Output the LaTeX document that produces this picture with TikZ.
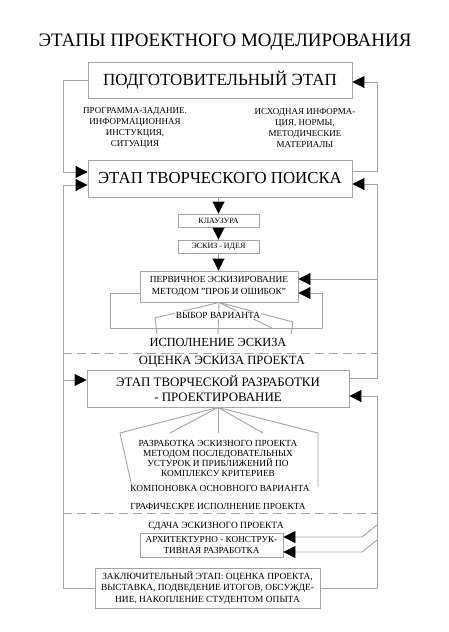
\documentclass[tikz,border=0pt]{standalone}
\usepackage{fontspec}
\setmainfont{Liberation Serif}
\usetikzlibrary{arrows.meta}
\definecolor{lgray}{RGB}{165,165,165}
\begin{document}
\begin{tikzpicture}[x=1pt,y=-1pt,
  ln/.style={draw=lgray, line width=0.9pt},
  box/.style={draw=lgray, line width=0.9pt, fill=white, inner sep=0pt, align=center},
  arr/.style={ln, -{Triangle[length=12pt,width=12pt,color=black]}},
  lbl/.style={align=center, inner sep=1pt},
  dsh/.style={ln, dash pattern=on 9pt off 5pt}
]
\useasboundingbox[fill=white] (0,0) rectangle (448,632);
\coordinate (L) at (63,0);
\coordinate (R) at (377,0);

% title
\node[lbl, font=\fontsize{19}{22}\selectfont] (title) at (225,42) {ЭТАПЫ ПРОЕКТНОГО МОДЕЛИРОВАНИЯ};

% boxes
\node[box, minimum width=264pt, minimum height=36pt, font=\fontsize{17}{20}\selectfont] (prep) at (220,80) {ПОДГОТОВИТЕЛЬНЫЙ ЭТАП};
\node[box, minimum width=264pt, minimum height=37pt, font=\fontsize{16.8}{20}\selectfont] (search) at (220,178.5) {ЭТАП ТВОРЧЕСКОГО ПОИСКА};
\node[box, minimum width=81pt, minimum height=13pt, font=\fontsize{8}{9}\selectfont] (klau) at (218.5,220.5) {КЛАУЗУРА};
\node[box, minimum width=81pt, minimum height=13pt, font=\fontsize{8}{9}\selectfont] (idea) at (218.5,246.5) {ЭСКИЗ - ИДЕЯ};
\node[box, minimum width=158pt, minimum height=31pt, font=\fontsize{9.3}{11.5}\selectfont] (first) at (219,286.5) {ПЕРВИЧНОЕ ЭСКИЗИРОВАНИЕ\\МЕТОДОМ "ПРОБ И ОШИБОК"};
\node[box, minimum width=262pt, minimum height=37pt, font=\fontsize{12.9}{15.5}\selectfont] (dev) at (218,388.5) {ЭТАП ТВОРЧЕСКОЙ РАЗРАБОТКИ\\- ПРОЕКТИРОВАНИЕ};
\node[box, minimum width=143pt, minimum height=24pt, font=\fontsize{9.2}{11.5}\selectfont] (arch) at (211.5,545) {АРХИТЕКТУРНО - КОНСТРУК-\\ТИВНАЯ РАЗРАБОТКА};
\node[box, minimum width=225pt, minimum height=40pt, font=\fontsize{9.4}{11.5}\selectfont] (final) at (207.5,588) {ЗАКЛЮЧИТЕЛЬНЫЙ ЭТАП: ОЦЕНКА ПРОЕКТА,\\ВЫСТАВКА, ПОДВЕДЕНИЕ ИТОГОВ, ОБСУЖДЕ-\\НИЕ, НАКОПЛЕНИЕ СТУДЕНТОМ ОПЫТА};

% info texts
\node[lbl, font=\fontsize{9}{11}\selectfont] (infoL) at (135,128) {ПРОГРАММА-ЗАДАНИЕ.\\ИНФОРМАЦИОННАЯ\\ИНСТУКЦИЯ,\\СИТУАЦИЯ};
\node[lbl, font=\fontsize{9}{11}\selectfont] (infoR) at (305,128.5) {ИСХОДНАЯ ИНФОРМА-\\ЦИЯ, НОРМЫ,\\МЕТОДИЧЕСКИЕ\\МАТЕРИАЛЫ};

% vertical flow
\draw[arr] (klau.north |- search.south) -- (klau.north);
\draw[arr] (klau.south) -- (idea.north);
\draw[arr] (idea.south) -- (idea.south |- first.north);

% feedback loops
\draw[arr] (prep.west) -- (prep.west -| L) |- ([yshift=6.5pt]search.west);
\draw[arr] ([yshift=7.5pt]search.east) -- ([yshift=7.5pt]search.east -| R) |- ([yshift=-2pt]prep.east);
\draw[arr] (final.west) -- (final.west -| L) |- ([yshift=-6.5pt]search.west);
\draw[arr] ([yshift=8.5pt]dev.west -| L) -- ([yshift=8.5pt]dev.west);
\draw[arr] ([yshift=10.5pt]dev.east) -- ([yshift=10.5pt]dev.east -| R) |- ([yshift=-5.5pt]search.east);
\draw[arr] ([yshift=7.5pt]first.east -| R) -- ([yshift=7.5pt]first.east);
\draw[arr] (final.east) -- (final.east -| R) |- ([yshift=-7.5pt]dev.east);
\coordinate (k1) at (377,525);
\coordinate (k1b) at (362,537);
\coordinate (k2) at (377,540);
\coordinate (k2b) at (362,552);
\draw[arr] (k1) -- (k1b) -- (k1b -| arch.east);
\draw[arr] (k2) -- (k2b) -- (k2b -| arch.east);

% loop around first sketching
\coordinate (lp1) at (110,328);
\coordinate (lp2) at (322,328);
\draw[arr] ([yshift=-6.5pt]first.west) -- ([yshift=-6.5pt]first.west -| lp1) -- (lp1) -- (lp2) -- ([yshift=-6.5pt]first.east -| lp2) -- ([yshift=-6.5pt]first.east);

% fan below first
\coordinate (fa1) at (155,318); \coordinate (fa2) at (157,334);
\coordinate (fb) at (218,334);
\coordinate (fc) at (272,328);
\coordinate (fd1) at (293,322); \coordinate (fd2) at (291,334);
\draw[ln] (first.south) -- (fa1) -- (fa2);
\draw[ln] (first.south) -- (fb);
\draw[ln] (first.south) -- (fc);
\draw[ln] (first.south) -- (fd1) -- (fd2);
\node[lbl, fill=white, font=\fontsize{9.4}{10}\selectfont] (choice) at (218,315) {ВЫБОР ВАРИАНТА};

\node[lbl, font=\fontsize{12.4}{15}\selectfont] (exec) at (218,342) {ИСПОЛНЕНИЕ ЭСКИЗА};
\draw[dsh] (L |- 0,353) -- (R |- 0,353);
\node[lbl, font=\fontsize{12.6}{15}\selectfont] (assess) at (222,362) {ОЦЕНКА ЭСКИЗА ПРОЕКТА};

% fan below dev
\coordinate (ga1) at (120,433); \coordinate (ga2) at (132,487);
\coordinate (gb) at (170,433);
\coordinate (gc) at (218,433);
\coordinate (gd) at (263,433);
\coordinate (ge1) at (318,433); \coordinate (ge2) at (318,487);
\draw[ln] (dev.south) -- (ga1) -- (ga2);
\draw[ln] (dev.south) -- (gb);
\draw[ln] (dev.south) -- (gc);
\draw[ln] (dev.south) -- (gd);
\draw[ln] (dev.south) -- (ge1) -- (ge2);

\node[lbl, font=\fontsize{9.3}{10.2}\selectfont] (method) at (218,458.5) {РАЗРАБОТКА ЭСКИЗНОГО ПРОЕКТА\\МЕТОДОМ ПОСЛЕДОВАТЕЛЬНЫХ\\УСТУРОК И ПРИБЛИЖЕНИЙ ПО\\КОМПЛЕКСУ КРИТЕРИЕВ};
\node[lbl, font=\fontsize{9.3}{11}\selectfont] (layout) at (220,488) {КОМПОНОВКА ОСНОВНОГО ВАРИАНТА};
\node[lbl, font=\fontsize{9.3}{11}\selectfont] (graph) at (218,506) {ГРАФИЧЕСКРЕ ИСПОЛНЕНИЕ ПРОЕКТА};
\draw[dsh] (L |- 0,513) -- (R |- 0,513);
\node[lbl, font=\fontsize{9.5}{11}\selectfont] (submit) at (216,526) {СДАЧА ЭСКИЗНОГО ПРОЕКТА};
\end{tikzpicture}
\end{document}
